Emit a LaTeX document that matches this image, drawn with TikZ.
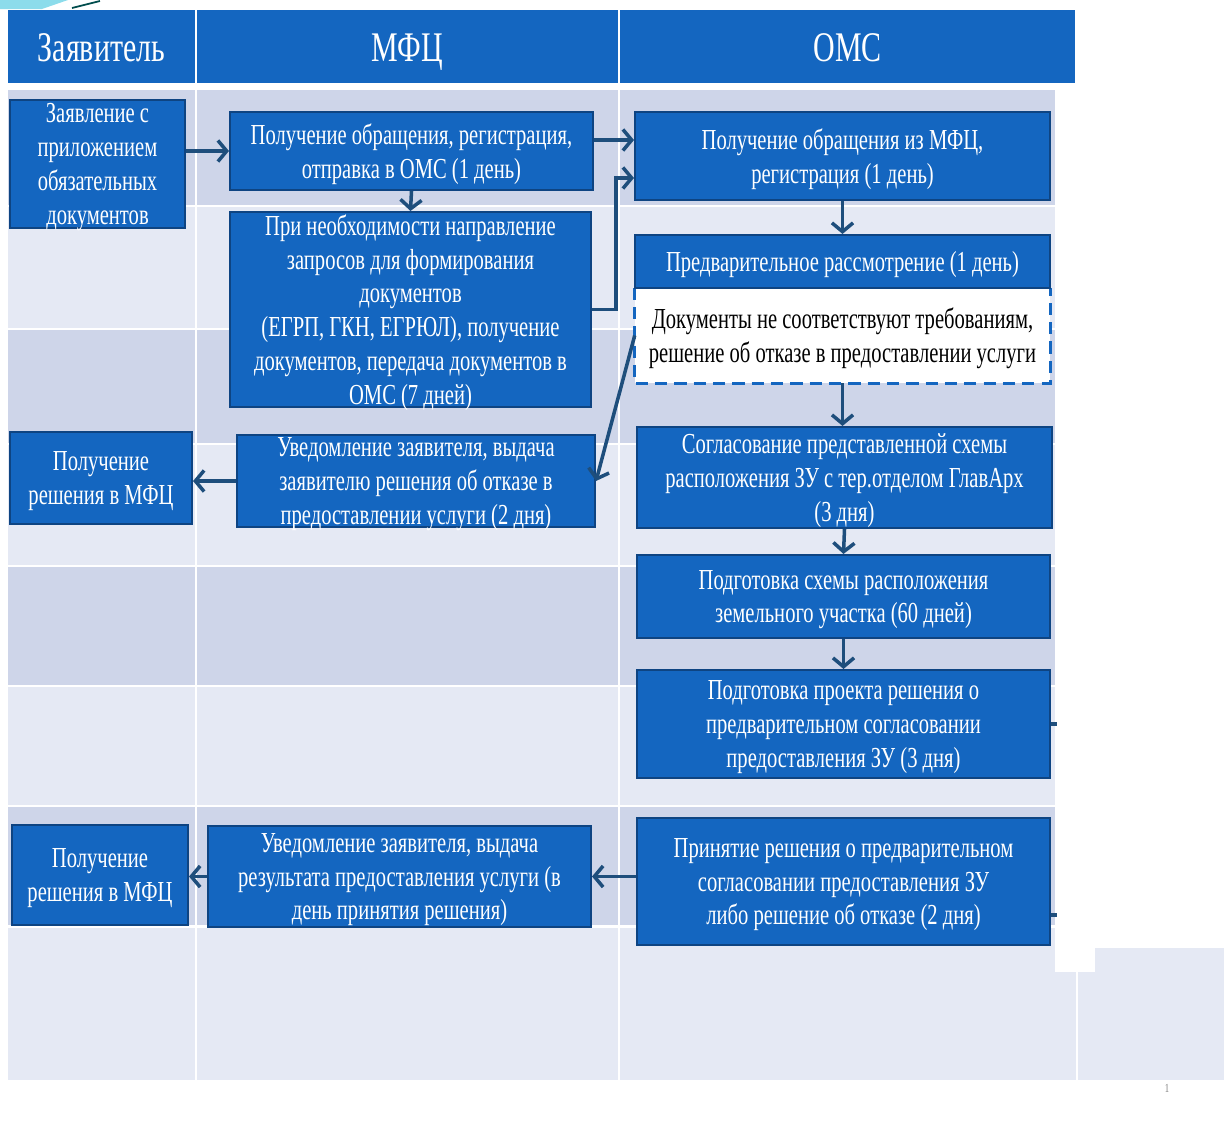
\documentclass[tikz,border=0pt]{standalone}
\usepackage{fontspec}
\setmainfont{Liberation Serif}[FakeStretch=0.71]
\usepackage{tikz}
\usetikzlibrary{arrows.meta}
\definecolor{boxblue}{RGB}{20,102,192}
\definecolor{boxedge}{RGB}{14,68,130}
\definecolor{linkblue}{RGB}{30,78,124}
\definecolor{rowdark}{RGB}{206,213,233}
\definecolor{rowlight}{RGB}{229,233,244}
\definecolor{swoosh}{RGB}{140,220,235}
\tikzstyle{lane} = [fill=boxblue, text=white, inner sep=0pt, minimum height=1.46cm, text height=17pt, text depth=-1pt, font=\fontsize{24}{28}\selectfont]
\tikzstyle{task} = [draw=boxedge, line width=1.2pt, fill=boxblue, text=white, align=center, inner sep=0pt, text depth=-4pt, font=\fontsize{16.5}{19.3}\selectfont]
\tikzstyle{refuse} = [fill=white, text=black, align=center, inner sep=0pt, text depth=-4pt, font=\fontsize{16.5}{19.3}\selectfont]
\tikzstyle{dashedge} = [draw=boxblue, dashed, dash pattern=on 7pt off 4pt, line width=1.6pt]
\tikzstyle{link} = [draw=linkblue, line width=2pt, -{Straight Barb[length=5pt,width=12pt]}]

\begin{document}
\begin{tikzpicture}[x=0.02cm, y=-0.02cm]
    \useasboundingbox (0,0) rectangle (1224,1120);
    \fill[swoosh] (0,0) -- (68,0) -- (42,9) -- (0,9) -- cycle;
    \draw[teal!60!black, line width=1pt] (72,8) -- (100,1);

    \fill[rowdark] (8,90) rectangle (1055,205);
    \fill[rowlight] (8,207) rectangle (1055,328);
    \fill[rowdark] (8,330) rectangle (1055,443);
    \fill[rowlight] (8,445) rectangle (1055,565);
    \fill[rowdark] (8,567) rectangle (1055,685);
    \fill[rowlight] (8,687) rectangle (1055,805);
    \fill[rowdark] (8,807) rectangle (1055,925);
    \fill[rowlight] (8,928) rectangle (1055,1080);
    \fill[rowlight] (1055,972) rectangle (1224,1080);
    \fill[rowlight] (1095,948) rectangle (1224,972);
    \draw[white, line width=1.2pt] (196,90) -- (196,1080) (619,90) -- (619,1080) (1077,972) -- (1077,1080);

    \node[lane, minimum width=3.74cm] (hApp) at (101.5,46.5) {Заявитель};
    \node[lane, minimum width=8.42cm] (hMfc) at (407.5,46.5) {МФЦ};
    \node[lane, minimum width=9.1cm] (hOms) at (847.5,46.5) {ОМС};

    \node[task, minimum width=3.5cm, minimum height=2.56cm] (app) at (97.5,164) {Заявление с\\приложением\\обязательных\\документов};
    \node[task, minimum width=3.64cm, minimum height=1.84cm] (getNo) at (101,478) {Получение\\решения в МФЦ};
    \node[task, minimum width=3.52cm, minimum height=2cm] (getYes) at (100,875) {Получение\\решения в МФЦ};

    \node[task, minimum width=7.26cm, minimum height=1.56cm] (mReg) at (411.5,151) {Получение обращения, регистрация,\\отправка в ОМС (1 день)};
    \node[task, minimum width=7.22cm, minimum height=3.9cm] (mReq) at (410.5,309.5) {При необходимости направление\\запросов для формирования\\документов\\(ЕГРП, ГКН, ЕГРЮЛ), получение\\документов, передача документов в\\ОМС (7 дней)};
    \node[task, minimum width=7.16cm, minimum height=1.84cm] (mNo) at (416,481) {Уведомление заявителя, выдача\\заявителю решения об отказе в\\предоставлении услуги (2 дня)};
    \node[task, minimum width=7.66cm, minimum height=2.02cm] (mYes) at (399.5,876.5) {Уведомление заявителя, выдача\\результата предоставления услуги (в\\день принятия решения)};

    \node[task, minimum width=8.3cm, minimum height=1.76cm] (oReg) at (842.5,156) {Получение обращения из МФЦ,\\регистрация (1 день)};
    \node[refuse, minimum width=8.3cm, minimum height=1.9cm] (oRefuse) at (842.5,335.5) {Документы не соответствуют требованиям,\\решение об отказе в предоставлении услуги};
    \draw[dashedge] (oRefuse.north west) -- (oRefuse.south west) -- (oRefuse.south east) -- (oRefuse.north east);
    \node[task, minimum width=8.3cm, minimum height=1.06cm] (oCheck) at (842.5,261.5) {Предварительное рассмотрение (1 день)};
    \node[task, minimum width=8.3cm, minimum height=2.02cm] (oAgree) at (844.5,477.5) {Согласование представленной схемы\\расположения ЗУ с тер.отделом ГлавАрх\\(3 дня)};
    \node[task, minimum width=8.26cm, minimum height=1.66cm] (oPlan) at (843.5,596.5) {Подготовка схемы расположения\\земельного участка (60 дней)};
    \node[task, minimum width=8.26cm, minimum height=2.16cm] (oDraft) at (843.5,724) {Подготовка проекта решения о\\предварительном согласовании\\предоставления ЗУ (3 дня)};
    \node[task, minimum width=8.26cm, minimum height=2.54cm] (oDecide) at (843.5,881.5) {Принятие решения о предварительном\\согласовании предоставления ЗУ\\либо решение об отказе (2 дня)};

    \coordinate (mRegOut) at ([yshift=0.22cm]mReg.east);
    \coordinate (oRegIn) at ([yshift=-0.44cm]oReg.west);
    \coordinate (draftEnd) at ([xshift=0.12cm]oDraft.east);
    \coordinate (decideOut) at ([yshift=-0.67cm]oDecide.east);
    \coordinate (decideEnd) at ([xshift=0.12cm]decideOut);

    \draw[link] (app.east |- mReg.west) -- (mReg.west);
    \draw[link] (mRegOut) -- (mRegOut -| oReg.west);
    \draw[link] (mReg.south) -- (mReq.north);
    \draw[link] (mReq.east) -- ++(24,0) |- (oRegIn);
    \draw[link] (oReg.south) -- (oCheck.north);
    \draw[link] (oRefuse.west) -- (mNo.east);
    \draw[link] (mNo.west) -- (mNo.west -| getNo.east);
    \draw[link] (oRefuse.south) -- (oRefuse.south |- oAgree.north);
    \draw[link] (oAgree.south) -- (oPlan.north);
    \draw[link] (oPlan.south) -- (oDraft.north);
    \draw[link] (oDecide.west |- mYes.east) -- (mYes.east);
    \draw[link] (mYes.west) -- (mYes.west -| getYes.east);
    \draw[linkblue, line width=2pt] (oDraft.east) -- (draftEnd) (decideOut) -- (decideEnd);

    \node[text=gray, font=\fontsize{7}{8}\selectfont] (page) at (1167,1088) {1};
\end{tikzpicture}
\end{document}
